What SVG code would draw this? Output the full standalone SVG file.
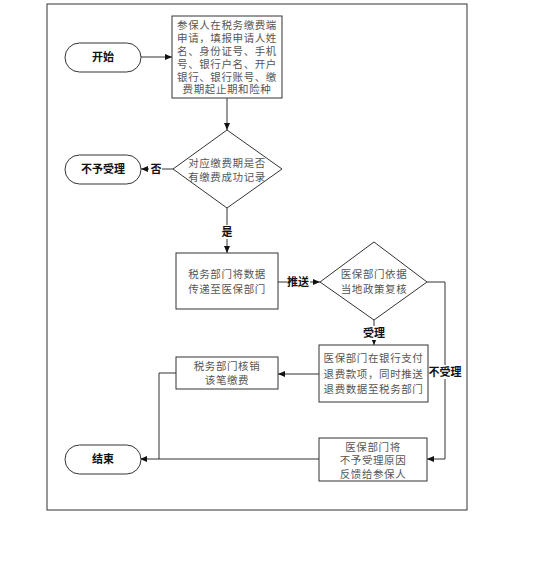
<svg xmlns="http://www.w3.org/2000/svg" width="536" height="582" viewBox="0 0 536 582">
<style>
.shape{fill:#fff;stroke:#333;stroke-width:1}
.t{font-family:"Liberation Sans","Noto Sans CJK SC",sans-serif;font-size:10.5px;fill:#555;text-anchor:middle;letter-spacing:0.6px}
.lb{font-family:"Liberation Sans","Noto Sans CJK SC",sans-serif;font-size:11px;font-weight:bold;fill:#111;text-anchor:middle}
.ln{fill:none;stroke:#333;stroke-width:1}
.bg{fill:#fff}
</style>
<defs>
<marker id="ah" markerWidth="7" markerHeight="6" refX="7" refY="3" orient="auto" markerUnits="userSpaceOnUse">
<path d="M0,0 L7,3 L0,6 Z" fill="#111"/>
</marker>
</defs>
<rect x="47" y="4" width="420" height="506" fill="#fff" stroke="#333" stroke-width="1"/>

<g id="connectors">
<path class="ln" d="M141,57 L172,57" marker-end="url(#ah)"/>
<path class="ln" d="M227,98 L227,130" marker-end="url(#ah)"/>
<path class="ln" d="M173,169 L141,169" marker-end="url(#ah)"/>
<path class="ln" d="M227,208 L227,253" marker-end="url(#ah)"/>
<path class="ln" d="M278,282 L320,282" marker-end="url(#ah)"/>
<path class="ln" d="M374,320 L374,345" marker-end="url(#ah)"/>
<path class="ln" d="M427,282 L445,282 L445,459 L427,459" marker-end="url(#ah)"/>
<path class="ln" d="M319,374 L278,374" marker-end="url(#ah)"/>
<path class="ln" d="M176,373 L159,373 L159,459"/>
<path class="ln" d="M319,459 L140,459" marker-end="url(#ah)"/>
<rect class="bg" x="149" y="162" width="13" height="14"/>
<text class="lb" x="156" y="173">否</text>
<rect class="bg" x="220" y="225" width="14" height="14"/>
<text class="lb" x="227" y="236">是</text>
<rect class="bg" x="287" y="275" width="23" height="14"/>
<text class="lb" x="298" y="286">推送</text>
<rect class="bg" x="362" y="326" width="24" height="14"/>
<text class="lb" x="374" y="337">受理</text>
<rect class="bg" x="428" y="365" width="35" height="14"/>
<text class="lb" x="445" y="376">不受理</text>
</g>

<g id="start">
<rect class="shape" x="65" y="43" width="76" height="29" rx="14.5"/>
<text class="lb" x="103" y="61">开始</text>
</g>

<g id="apply">
<rect class="shape" x="172" y="16" width="110" height="82"/>
<text class="t" x="227" y="29">参保人在税务缴费端</text>
<text class="t" x="227" y="42">申请，填报申请人姓</text>
<text class="t" x="227" y="55">名、身份证号、手机</text>
<text class="t" x="227" y="68">号、银行户名、开户</text>
<text class="t" x="227" y="81">银行、银行账号、缴</text>
<text class="t" x="227" y="93">费期起止期和险种</text>
</g>

<g id="check">
<polygon class="shape" points="227,130 282,169 227,208 173,169"/>
<text class="t" x="227" y="167">对应缴费期是否</text>
<text class="t" x="227" y="181">有缴费成功记录</text>
</g>

<g id="reject">
<rect class="shape" x="65" y="155" width="76" height="29" rx="14.5"/>
<text class="lb" x="103" y="173">不予受理</text>
</g>

<g id="transfer">
<rect class="shape" x="176" y="253" width="102" height="56"/>
<text class="t" x="227" y="278">税务部门将数据</text>
<text class="t" x="227" y="293">传递至医保部门</text>
</g>

<g id="review">
<polygon class="shape" points="374,242 427,282 374,320 320,282"/>
<text class="t" x="374" y="278">医保部门依据</text>
<text class="t" x="374" y="293">当地政策复核</text>
</g>

<g id="refund">
<rect class="shape" x="319" y="345" width="109" height="57"/>
<text class="t" x="373.5" y="362">医保部门在银行支付</text>
<text class="t" x="373.5" y="377.5">退费款项，同时推送</text>
<text class="t" x="373.5" y="393">退费数据至税务部门</text>
</g>

<g id="writeoff">
<rect class="shape" x="176" y="357" width="102" height="32"/>
<text class="t" x="227" y="370">税务部门核销</text>
<text class="t" x="227" y="384">该笔缴费</text>
</g>

<g id="feedback">
<rect class="shape" x="319" y="438" width="108" height="43"/>
<text class="t" x="373" y="451">医保部门将</text>
<text class="t" x="373" y="464">不予受理原因</text>
<text class="t" x="373" y="478">反馈给参保人</text>
</g>

<g id="end">
<rect class="shape" x="65" y="445" width="76" height="29" rx="14.5"/>
<text class="lb" x="103" y="463">结束</text>
</g>
</svg>
